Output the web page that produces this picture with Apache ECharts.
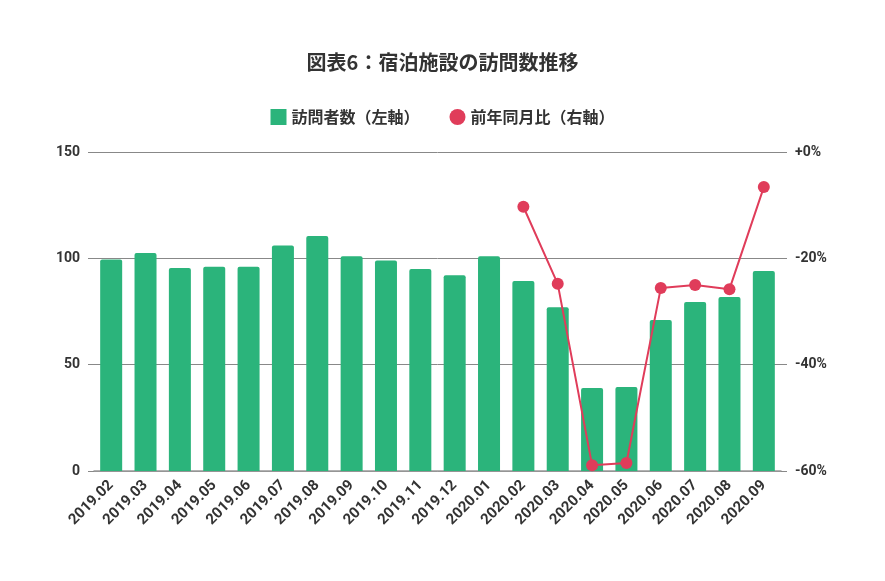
<!DOCTYPE html>
<html>
<head>
<meta charset="utf-8">
<script src="https://cdn.jsdelivr.net/npm/echarts@6/dist/echarts.min.js"></script>
<style>
  html, body { margin: 0; padding: 0; background: #fff; }
  #chart { width: 885px; height: 581px; }
</style>
</head>
<body>
<div id="chart"></div>
<script>
const months = ['2019.02', '2019.03', '2019.04', '2019.05', '2019.06', '2019.07', '2019.08', '2019.09', '2019.10', '2019.11',
  '2019.12', '2020.01', '2020.02', '2020.03', '2020.04', '2020.05', '2020.06', '2020.07', '2020.08', '2020.09'];
const visitors = [99.5, 102.5, 95.4, 96, 96, 106, 110.5, 101, 99, 95, 92, 101, 89.3, 77, 39, 39.5, 71, 79.5, 81.8, 94];
const yoyPct = [null, null, null, null, null, null, null, null, null, null, null, null,
  -10.3, -24.8, -58.9, -58.5, -25.6, -25, -25.8, -6.6];
const leftTicks = { min: 0, max: 150, interval: 50 };
const rightTicks = { min: -60, max: 0, interval: 20 };

const green = '#2bb47b';
const red = '#e03c5a';
const font = '"Noto Sans CJK JP", "Noto Sans", sans-serif';
const numFont = 'Roboto, "Liberation Sans", sans-serif';

let myChart = echarts.init(document.getElementById('chart'));
let option = {
  textStyle: { fontFamily: font },
  title: {
    text: '図表6：宿泊施設の訪問数推移',
    left: 'center',
    top: 47,
    textStyle: { fontSize: 20, fontWeight: 'bold', color: '#333', fontFamily: font },
  },
  legend: {
    top: 104,
    left: 'center',
    itemGap: 30,
    itemWidth: 16,
    itemHeight: 16,
    textStyle: { fontSize: 16, fontWeight: 'bold', color: '#333', fontFamily: font },
    data: [
      { name: '訪問者数（左軸）', icon: 'rect' },
      { name: '前年同月比（右軸）', icon: 'circle' },
    ],
  },
  grid: { left: 94, right: 104, top: 152, bottom: 110 },
  xAxis: {
    type: 'category',
    data: months,
    axisLine: { lineStyle: { color: '#999', width: 1.5 } },
    axisTick: { show: false },
    axisLabel: {
      rotate: 45,
      interval: 0,
      margin: 12,
      fontSize: 15,
      fontWeight: 'bold',
      color: '#333',
      fontFamily: numFont,
    },
  },
  yAxis: [
    {
      type: 'value',
      min: leftTicks.min,
      max: leftTicks.max,
      interval: leftTicks.interval,
      axisLine: { show: false },
      axisTick: { show: true, length: 6, lineStyle: { color: '#888' } },
      splitLine: { lineStyle: { color: '#888', width: 1 } },
      axisLabel: { fontSize: 14, fontWeight: 'bold', color: '#333', margin: 14, fontFamily: numFont },
    },
    {
      type: 'value',
      min: rightTicks.min,
      max: rightTicks.max,
      interval: rightTicks.interval,
      position: 'right',
      axisLine: { show: false },
      axisTick: { show: true, length: 6, lineStyle: { color: '#888' } },
      splitLine: { show: false },
      axisLabel: {
        fontSize: 14,
        fontWeight: 'bold',
        color: '#333',
        margin: 14,
        fontFamily: numFont,
        formatter: v => (v >= 0 ? '+' + v : v) + '%',
      },
    },
  ],
  series: [
    {
      name: '訪問者数（左軸）',
      type: 'bar',
      data: visitors,
      barWidth: 22,
      itemStyle: { color: green, borderRadius: [2, 2, 0, 0] },
    },
    {
      name: '前年同月比（右軸）',
      type: 'line',
      yAxisIndex: 1,
      data: yoyPct,
      symbol: 'circle',
      symbolSize: 12,
      lineStyle: { color: red, width: 2 },
      itemStyle: { color: red },
    },
  ],
};
myChart.setOption(option);
</script>
</body>
</html>
